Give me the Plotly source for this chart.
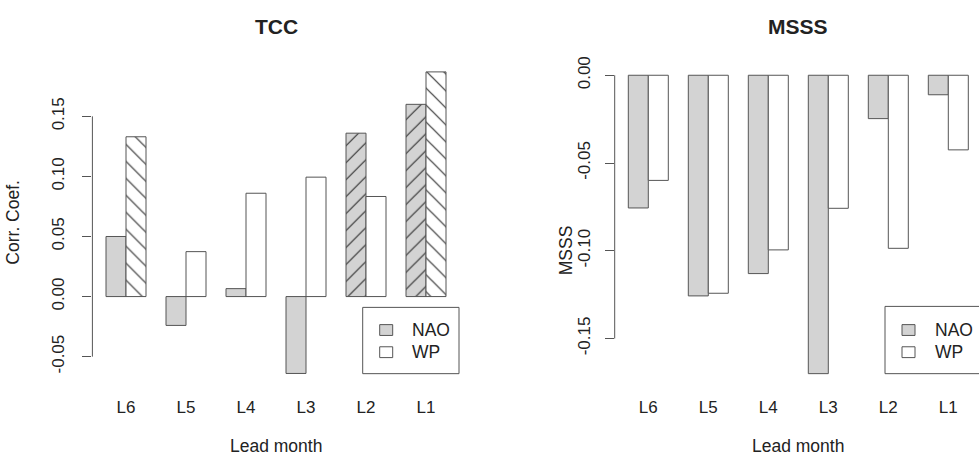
import plotly.graph_objects as go

# Lead months, left to right
leads = ["L6", "L5", "L4", "L3", "L2", "L1"]

# Temporal correlation coefficient
tcc_nao = [0.050, -0.024, 0.0066, -0.064, 0.136, 0.160]
tcc_wp = [0.133, 0.0374, 0.086, 0.0994, 0.0833, 0.187]
# hatch marks for the significant bars
tcc_nao_hatch = ["", "", "", "", "/", "/"]
tcc_wp_hatch = ["\\", "", "", "", "", "\\"]

# Mean squared skill score
msss_nao = [-0.0756, -0.1257, -0.113, -0.170, -0.0247, -0.0111]
msss_wp = [-0.0599, -0.1242, -0.0995, -0.0758, -0.0986, -0.0425]

# Axis ticks
tcc_ticks = [-0.05, 0.00, 0.05, 0.10, 0.15]
tcc_ticktext = ["-0.05", "0.00", "0.05", "0.10", "0.15"]
msss_ticks = [-0.15, -0.10, -0.05, 0.00]
msss_ticktext = ["-0.15", "-0.10", "-0.05", "0.00"]

series_names = ["NAO", "WP"]

W, H = 979, 462
FONT = "Liberation Sans, Arial, Helvetica, sans-serif"
TXT = "#222222"
LINE = "#555555"
HATCH = "#333333"
NAO_FILL = "#d3d3d3"
WP_FILL = "#ffffff"
fills = [NAO_FILL, WP_FILL]

# plot regions in pixels
L_X0, L_X1 = 92.4, 459.6
L_Y0, L_Y1 = 53.7, 384.3
R_X0, R_X1 = 614.7, 979.0
R_X1_FULL = 981.9
R_Y0, R_Y1 = 57.2, 384.4


def bar(x, y, fill, hatch, name, xa, ya):
    pattern = dict(shape=hatch, fgcolor=HATCH, fgopacity=1, fillmode="overlay",
                   size=12, solidity=0.1) if hatch else None
    return go.Bar(
        x=x, y=y, name=name, xaxis=xa, yaxis=ya, showlegend=False,
        marker=dict(color=fill, line=dict(color=LINE, width=1), pattern=pattern),
        hoverinfo="x+y+name",
    )


fig = go.Figure()
fig.add_trace(bar(leads, tcc_nao, NAO_FILL, tcc_nao_hatch, "NAO", "x", "y"))
fig.add_trace(bar(leads, tcc_wp, WP_FILL, tcc_wp_hatch, "WP", "x", "y"))
fig.add_trace(bar(leads, msss_nao, NAO_FILL, None, "NAO", "x2", "y2"))
fig.add_trace(bar(leads, msss_wp, WP_FILL, None, "WP", "x2", "y2"))

unit = 60.0  # pixels per lead-month category
xstart = -0.56


def xaxis(x0, x1):
    return dict(
        domain=[x0 / W, x1 / W],
        range=[xstart, xstart + (x1 - x0) / unit],
        showgrid=False, zeroline=False, showline=False,
        ticks="outside", ticklen=6, tickcolor="rgba(0,0,0,0)",
        tickfont=dict(family=FONT, size=17, color=TXT),
        fixedrange=True,
    )


def yaxis(y0, y1, rng, tv, tt, anchor, standoff):
    return dict(
        domain=[1 - y1 / H, 1 - y0 / H],
        range=rng, anchor=anchor,
        showgrid=False, zeroline=False, showline=False,
        tickvals=tv, ticktext=tt, tickangle=-90,
        ticks="outside", ticklen=9, tickwidth=1, tickcolor=LINE,
        ticklabelstandoff=standoff,
        tickfont=dict(family=FONT, size=17, color=TXT),
        fixedrange=True,
    )


fig.update_layout(
    width=W, height=H, autosize=False,
    margin=dict(l=0, r=0, t=0, b=0),
    paper_bgcolor="white", plot_bgcolor="white",
    barmode="group", bargap=1 / 3, bargroupgap=0,
    xaxis=dict(xaxis(L_X0, L_X1), anchor="y"),
    yaxis=yaxis(L_Y0, L_Y1, [-0.074, 0.197], tcc_ticks, tcc_ticktext, "x", 12),
    xaxis2=dict(xaxis(R_X0, R_X1), anchor="y2"),
    yaxis2=yaxis(R_Y0, R_Y1, [-0.1768, 0.0068], msss_ticks, msss_ticktext, "x2", 8),
)

shapes = []
annotations = []

# y axis lines spanning the first to the last tick
for xref, yref, tv in (("x domain", "y", tcc_ticks), ("x2 domain", "y2", msss_ticks)):
    shapes.append(dict(type="line", xref=xref, yref=yref, x0=0, x1=0,
                       y0=min(tv), y1=max(tv), line=dict(color=LINE, width=1)))


def text(x, y, s, size=17, bold=False, angle=0, xanchor="center"):
    annotations.append(dict(
        x=x / W, y=1 - y / H, xref="paper", yref="paper", text=s,
        showarrow=False, textangle=angle, xanchor=xanchor, yanchor="middle",
        font=dict(family=FONT, size=size, color=TXT,
                  weight="bold" if bold else "normal"),
    ))


# titles and axis titles
text((L_X0 + L_X1) / 2, 20, "TCC", size=21, bold=True)
text((R_X0 + R_X1_FULL) / 2, 20, "MSSS", size=21, bold=True)
text((L_X0 + L_X1) / 2, 446, "Lead month", size=17.5)
text((R_X0 + R_X1_FULL) / 2, 446, "Lead month", size=17.5)
text(13, 219, "Corr. Coef.", size=17.5, angle=-90)
text(566, 247, "MSSS", size=17.5, angle=-90)


# legend boxes
def legend(bx0, by0, bx1, by1):
    shapes.append(dict(type="rect", xref="paper", yref="paper",
                       x0=bx0 / W, x1=bx1 / W, y0=1 - by1 / H, y1=1 - by0 / H,
                       line=dict(color=LINE, width=1), fillcolor="white"))
    for i, (nm, fc) in enumerate(zip(series_names, fills)):
        cy = 328 + i * 22.5
        shapes.append(dict(type="rect", xref="paper", yref="paper",
                           x0=(bx0 + 17) / W, x1=(bx0 + 30) / W,
                           y0=1 - (cy + 5.5) / H, y1=1 - (cy - 5.5) / H,
                           line=dict(color=LINE, width=1), fillcolor=fc))
        text(bx0 + 47.5, cy, nm, size=17.5, xanchor="left")


legend(362.7, 305, 459.0, 372.3)
legend(885.0, 304, 985.0, 372.3)

fig.update_layout(shapes=shapes, annotations=annotations)
fig.write_html("out.html", config={"displayModeBar": False})
